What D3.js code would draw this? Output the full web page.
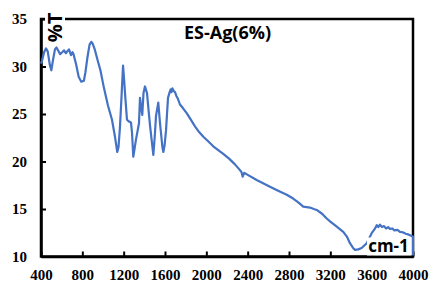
<!DOCTYPE html>
<html>
<head>
<meta charset="utf-8">
<script src="https://cdn.jsdelivr.net/npm/d3@7"></script>
<style>
  html, body { margin: 0; padding: 0; background: #fff; }
  svg { display: block; }
  .tick text { font-family: "Liberation Serif", serif; font-weight: bold; font-size: 15px; fill: #000; }
</style>
</head>
<body>
<div id="chart"></div>
<script>
// FTIR spectrum of ES-Ag(6%)
const wavenumber = [
    400, 410, 430, 448, 465, 485, 500, 515, 535, 550, 570, 585, 605, 623, 640, 655, 671, 690, 705, 715,
    740, 765, 790, 815, 830, 850, 870, 887, 900, 920, 952, 975, 1010, 1048, 1087, 1116, 1138, 1150, 1164, 1180,
    1194, 1205, 1213, 1232, 1252, 1271, 1281, 1293, 1305, 1319, 1348, 1358, 1368, 1380, 1392, 1406, 1426, 1440, 1455, 1487,
    1500, 1513, 1535, 1552, 1575, 1584, 1596, 1610, 1629, 1645, 1655, 1662, 1672, 1685, 1697, 1710, 1725, 1745, 1775, 1810,
    1850, 1890, 1930, 1971, 2020, 2067, 2115, 2164, 2220, 2277, 2309, 2340, 2352, 2366, 2384, 2487, 2616, 2700, 2778, 2840,
    2890, 2938, 2970, 3003, 3040, 3068, 3120, 3165, 3197, 3262, 3325, 3360, 3390, 3420, 3439, 3470, 3503, 3552, 3600, 3630,
    3650, 3664, 3680, 3700, 3720, 3740, 3760, 3777, 3800, 3820, 3850, 3874, 3900, 3930, 3960, 3987, 4000, 4000
];
const transmittance = [
    30.3, 30.6, 31.5, 31.9, 31.6, 30.2, 29.6, 30.6, 31.8, 32.0, 31.6, 31.3, 31.5, 31.7, 31.4, 31.6, 31.8, 31.2, 31.5, 31.3,
    30.2, 28.9, 28.4, 28.5, 29.4, 31.0, 32.3, 32.6, 32.4, 31.8, 30.5, 29.6, 27.7, 25.9, 24.4, 22.6, 21.0, 21.5, 23.6, 27.0,
    30.1, 28.5, 27.2, 24.4, 24.2, 24.1, 23.0, 20.5, 21.3, 22.3, 24.0, 26.7, 25.8, 24.9, 27.2, 27.9, 27.2, 25.5, 23.8, 20.7,
    22.5, 24.8, 26.2, 24.0, 21.5, 21.0, 21.7, 23.3, 26.7, 27.3, 27.6, 27.3, 27.7, 27.4, 27.3, 26.9, 26.6, 26.0, 25.6, 25.1,
    24.4, 23.7, 23.1, 22.6, 22.1, 21.6, 21.2, 20.8, 20.3, 19.7, 19.3, 18.9, 18.4, 18.8, 18.7, 18.05, 17.35, 16.9, 16.5, 16.1,
    15.7, 15.25, 15.2, 15.15, 15.0, 14.9, 14.5, 14.0, 13.7, 13.15, 12.6, 12.1, 11.4, 10.9, 10.7, 10.75, 10.9, 11.4, 12.45, 12.9,
    13.3, 13.1, 13.35, 13.1, 13.2, 12.95, 13.1, 12.9, 12.95, 12.75, 12.8, 12.6, 12.55, 12.4, 12.3, 12.15, 12.1, 10.1
];
const xTicks = [400, 800, 1200, 1600, 2000, 2400, 2800, 3200, 3600, 4000];
const yTicks = [10, 15, 20, 25, 30, 35];
const title = "ES-Ag(6%)";
const yLabel = "%T";
const xLabel = "cm-1";

const W = 432, H = 297;
const margin = { top: 19, right: 19, bottom: 40.5, left: 41 };
const width = W - margin.left - margin.right;
const height = H - margin.top - margin.bottom;

const svg = d3.select("#chart").append("svg")
    .attr("width", W)
    .attr("height", H);
const g = svg.append("g")
    .attr("transform", `translate(${margin.left},${margin.top})`);

const x = d3.scaleLinear().domain([400, 4000]).range([0, width]);
const y = d3.scaleLinear().domain([10, 35]).range([height, 0]);

// frame (top + right borders)
g.append("rect")
    .attr("width", width)
    .attr("height", height)
    .attr("fill", "none")
    .attr("stroke", "#000")
    .attr("stroke-width", 2.5);

// axes with inward ticks
const xAxis = g.append("g")
    .attr("transform", `translate(0,${height})`)
    .call(d3.axisBottom(x).tickValues(xTicks).tickFormat(d3.format("d"))
        .tickSizeInner(-5).tickSizeOuter(0).tickPadding(12.5));
const yAxis = g.append("g")
    .call(d3.axisLeft(y).tickValues(yTicks).tickFormat(d3.format("d"))
        .tickSizeInner(-5).tickSizeOuter(0).tickPadding(14));
[xAxis, yAxis].forEach(a => {
    a.select(".domain").attr("stroke", "#000").attr("stroke-width", 2.5);
    a.selectAll(".tick line").attr("stroke", "#000").attr("stroke-width", 2);
});

// spectrum line
const points = wavenumber.map((w, i) => ({ w, t: transmittance[i] }));
g.append("path")
    .datum(points)
    .attr("fill", "none")
    .attr("stroke", "#4472C4")
    .attr("stroke-width", 2.2)
    .attr("stroke-linejoin", "round")
    .attr("d", d3.line().x(d => x(d.w)).y(d => y(d.t)));

// title
svg.append("text")
    .attr("x", 227.5)
    .attr("y", 38.5)
    .attr("text-anchor", "middle")
    .style("font-family", "'Open Sans', sans-serif")
    .style("font-weight", "bold")
    .style("font-size", "18px")
    .text(title);

// y label with white box over frame
const yl = svg.append("g").attr("transform", "translate(55,27.5) rotate(-90)");
yl.append("rect")
    .attr("x", -18).attr("y", -10).attr("width", 36).attr("height", 20)
    .attr("fill", "#fff");
yl.append("text")
    .attr("text-anchor", "middle")
    .attr("dy", "0.36em")
    .style("font-family", "'Open Sans', sans-serif")
    .style("font-weight", "bold")
    .style("font-size", "20px")
    .text(yLabel);

// x unit label, bottom right inside plot
const xl = svg.append("g");
xl.append("rect")
    .attr("x", 367).attr("y", 237.5).attr("width", 44.5).attr("height", 18)
    .attr("fill", "#fff");
xl.append("text")
    .attr("x", 388.5)
    .attr("y", 252)
    .attr("text-anchor", "middle")
    .style("font-family", "'Open Sans', sans-serif")
    .style("font-weight", "bold")
    .style("font-size", "17px")
    .text(xLabel);
</script>
</body>
</html>
